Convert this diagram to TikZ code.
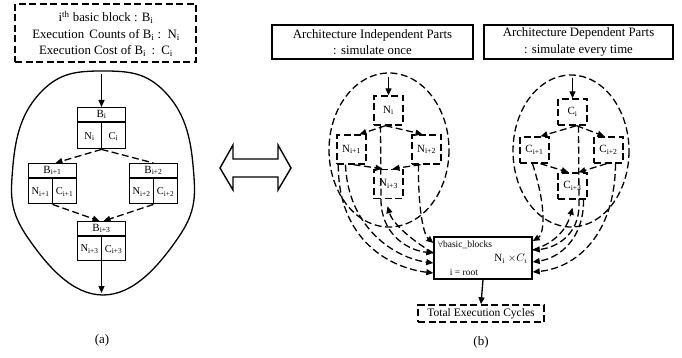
\documentclass[tikz,border=0pt]{standalone}
\usepackage{fontspec}
\setmainfont{Liberation Serif}
\usetikzlibrary{arrows.meta}
\newcommand\myblock[7]{%
  \node[blkbox,minimum height=#7] (#1) at (#2,#3) {};
  \draw[line width=1.4pt] ([yshift=-15pt]#1.north west) -- ([yshift=-15pt]#1.north east);
  \draw[line width=1.4pt] ([yshift=-15pt]#1.north) -- (#1.south);
  \node[font=\fontsize{11}{11}\selectfont,inner sep=0] (#1B) at ([yshift=-7.5pt]#1.north) {#4};
  \node[font=\fontsize{10.5}{10}\selectfont,inner sep=0] (#1N) at ([xshift=-12pt,yshift=0.5*#7-7.5pt]#1.south) {#5};
  \node[font=\fontsize{10.5}{10}\selectfont,inner sep=0] (#1C) at ([xshift=12pt,yshift=0.5*#7-7.5pt]#1.south) {#6};
}
\begin{document}
\begin{tikzpicture}[x=1pt,y=-1pt,
  dpat/.style={dash pattern=on 7pt off 3.5pt},
  blkbox/.style={draw,line width=1.4pt,minimum width=48pt,anchor=north,inner sep=0},
  dbox/.style={draw,line width=1.4pt,dpat,inner sep=0},
  sbox/.style={draw,line width=1.4pt,inner sep=0},
  sarr/.style={line width=1.3pt,-{Triangle[length=7pt,width=6pt]}},
  darr/.style={line width=1.3pt,dpat,-{Triangle[length=7pt,width=6pt]}},
  dline/.style={line width=1.3pt,dpat},
  ttl/.style={font=\fontsize{12.8}{16.5}\selectfont,align=center}]
\useasboundingbox (0,0) rectangle (682,358);

% ---------- (a) ----------
\node[dbox,minimum width=181pt,minimum height=58pt] (legend) at (105.5,33) {};
\node[ttl] (legtxt) at (106,34) {i\textsuperscript{th} basic block : B\textsubscript{i}\\
Execution\, Counts of B\textsubscript{i} :\, N\textsubscript{i}\\
Execution Cost of B\textsubscript{i}\, :\, C\textsubscript{i}};

\draw[line width=1.3pt] plot[smooth cycle,tension=0.75] coordinates
  {(103,71) (165,92) (193,165) (178,238) (103,295) (28,238) (13,165) (41,92)};

\myblock{b0}{101.5}{107}{B\textsubscript{i}}{N\textsubscript{i}}{C\textsubscript{i}}{41pt}
\myblock{b1}{52.5}{163}{B\textsubscript{i+1}}{N\textsubscript{i+1}}{C\textsubscript{i+1}}{40pt}
\myblock{b2}{153.5}{163}{B\textsubscript{i+2}}{N\textsubscript{i+2}}{C\textsubscript{i+2}}{40pt}
\myblock{b3}{101.5}{221}{B\textsubscript{i+3}}{N\textsubscript{i+3}}{C\textsubscript{i+3}}{39pt}

\coordinate (atop) at (101.5,74);
\coordinate (abot) at (101.5,293);
\draw[sarr] (atop) -- (b0.north);
\draw[darr] (b0.south) -- ([xshift=3pt]b1.north);
\draw[dline] (b0.south) -- (b2.north);
\draw[darr] (b1.south) -- ([xshift=-2pt]b3.north);
\draw[darr] (b2.south) -- ([xshift=2pt]b3.north);
\draw[sarr] (b3.south) -- (abot);
\node[font=\fontsize{13}{13}\selectfont] (alab) at (102,340) {(a)};

% double arrow
\draw[line width=1.4pt,line join=miter] (220,168) -- (233,145) -- (233,159) -- (278,159) -- (278,145)
  -- (291,168) -- (278,190) -- (278,177) -- (233,177) -- (233,190) -- cycle;

% ---------- (b) ----------
\node[sbox,minimum width=201pt,minimum height=34pt] (h1) at (372.5,42) {};
\node[ttl] (h1t) at (372.5,42) {Architecture Independent Parts\\: simulate once};
\node[sbox,minimum width=189pt,minimum height=34pt] (h2) at (578.5,42) {};
\node[ttl] (h2t) at (578.5,42) {Architecture Dependent Parts\\: simulate every time};

\draw[line width=1.3pt,dpat] (389,150) ellipse [x radius=60, y radius=77];
\draw[line width=1.3pt,dpat] (571,151) ellipse [x radius=58, y radius=76];

\tikzset{nb/.style={dbox,minimum width=29pt,minimum height=29pt,font=\fontsize{11}{11}\selectfont},
         cb/.style={dbox,minimum width=29pt,minimum height=26pt,font=\fontsize{11}{11}\selectfont}}
\node[nb] (n0) at (388.5,110.5) {N\textsubscript{i}};
\node[nb] (n1) at (351.5,149.5) {N\textsubscript{i+1}};
\node[nb] (n2) at (426.5,149.5) {N\textsubscript{i+2}};
\node[nb] (n3) at (388.5,184) {N\textsubscript{i+3}};
\node[cb] (c0) at (572.5,112) {C\textsubscript{i}};
\node[cb] (c1) at (534.5,150) {C\textsubscript{i+1}};
\node[cb] (c2) at (608.5,150) {C\textsubscript{i+2}};
\node[cb] (c3) at (572.5,186) {C\textsubscript{i+3}};

\coordinate (ntop) at (388.5,77);
\coordinate (ctop) at (572.5,78);
\draw[sarr] (ntop) -- (n0.north);
\draw[sarr] (ctop) -- (c0.north);

% internal arrows
\draw[darr] ([xshift=-3pt]n0.south) -- ([xshift=8pt]n1.north);
\draw[darr] ([xshift=-3pt]n0.south) -- ([xshift=-4pt]n2.north);
\draw[darr] ([xshift=2pt]n1.south) -- ([xshift=-6pt]n3.north);
\draw[darr] ([xshift=-6pt]n2.south) -- ([xshift=4pt]n3.north);
\draw[darr] ([xshift=4pt]c0.south) -- ([xshift=6pt]c1.north);
\draw[darr] ([xshift=4pt]c0.south) -- ([xshift=-4pt]c2.north);
\draw[darr] ([xshift=6pt]c1.south) -- ([xshift=-4pt]c3.north);
\draw[darr] ([xshift=-2pt]c2.south) -- ([xshift=6pt]c3.north);

% sum box
\node[sbox,minimum width=98pt,minimum height=42pt] (s) at (483,258) {};
\node[font=\fontsize{9.5}{9}\selectfont,inner sep=0] (s1) at (465,245) {$\forall$basic\_blocks};
\node[font=\fontsize{13}{13}\selectfont,inner sep=0] (s2) at (463,259) {$\mathbf{\Sigma}$};
\node[font=\fontsize{9.5}{9}\selectfont,inner sep=0] (s3) at (464,272.5) {i = root};
\node[font=\fontsize{11}{11}\selectfont,inner sep=0] (s4) at (511,259) {N\textsubscript{i} $\times C_i$};

% left curves
\draw[darr] ([xshift=2pt]n1.south west) .. controls (338,240) and (390,268) .. ([yshift=-15pt]s.west);
\draw[darr] ([xshift=-6pt]n1.south) .. controls (348,228) and (395,258) .. ([yshift=-5pt]s.west);
\draw[darr] ([xshift=-8pt]n0.south) -- (381,200) .. controls (381,232) and (405,250) .. ([yshift=5pt]s.west);
\draw[darr] ([xshift=-8pt]n2.south) .. controls (418,212) and (424,235) .. ([yshift=15pt]s.west);
\draw[darr] ([yshift=5pt]s.west) .. controls (408,238) and (392,222) .. ([xshift=-1pt,yshift=-7pt]n3.south);

% right curves
\draw[darr] ([xshift=-2pt]c1.south) .. controls (548,212) and (543,235) .. ([yshift=17pt]s.east);
\draw[darr] ([xshift=6pt]c0.south) -- (579,205) .. controls (579,235) and (556,248) .. ([yshift=8pt]s.east);
\draw[darr] ([xshift=11pt]c3.south) .. controls (584,238) and (560,258) .. ([yshift=-4pt]s.east);
\draw[darr] ([xshift=7pt]c2.south) .. controls (615,235) and (576,268) .. ([yshift=-14pt]s.east);
\draw[darr] ([yshift=8pt]s.east) .. controls (552,244) and (566,232) .. ([xshift=0pt,yshift=-8pt]c3.south);

% total
\node[dbox,minimum width=126pt,minimum height=17pt,font=\fontsize{11.5}{11}\selectfont] (tot) at (481,313.5) {Total Execution Cycles};
\draw[sarr] (s.south) -- (tot.north);
\node[font=\fontsize{13}{13}\selectfont] (blab) at (481,342) {(b)};
\end{tikzpicture}
\end{document}
